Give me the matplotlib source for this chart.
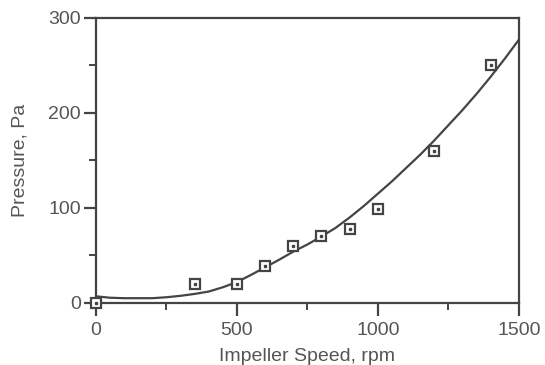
import matplotlib
matplotlib.use('Agg')
import matplotlib.pyplot as plt
from matplotlib.ticker import MultipleLocator

# measured points
speed = [0, 350, 500, 600, 700, 800, 900, 1000, 1200, 1400]
pressure = [0, 20, 20, 39, 60, 70, 78, 99, 160, 250]

# fitted curve
fit_speed = [0, 50, 100, 150, 200, 250, 300, 350, 400, 450, 500, 550, 600, 650, 700, 750,
             800, 850, 900, 950, 1000, 1050, 1100, 1150, 1200, 1250, 1300, 1350, 1400, 1450, 1500]
fit_pressure = [7, 5.5, 5, 5, 5, 6, 7.5, 9.5, 12, 16.5, 22, 29.5, 37.5, 45.5, 54, 61.5,
                70, 79, 90, 102, 115, 128, 142, 156, 171, 187, 203, 220, 238, 257, 277]

plt.rcParams['font.family'] = ['Liberation Sans', 'DejaVu Sans']
dark = '#444444'
txt = '#555555'

fig = plt.figure(figsize=(5.45, 3.65), dpi=100)
ax = fig.add_axes([0.176, 0.170, 0.776, 0.781])

ax.plot(fit_speed, fit_pressure, color=dark, linewidth=1.6, zorder=2)
ax.plot(speed, pressure, linestyle='none', marker='s', markersize=7,
        markerfacecolor='white', markeredgecolor=dark, markeredgewidth=1.6, zorder=3, clip_on=False)
ax.plot(speed, pressure, linestyle='none', marker='s', markersize=1.8,
        color=dark, zorder=4, clip_on=False)

ax.set_xlim(0, 1500)
ax.set_ylim(0, 300)
ax.xaxis.set_major_locator(MultipleLocator(500))
ax.xaxis.set_minor_locator(MultipleLocator(250))
ax.yaxis.set_major_locator(MultipleLocator(100))
ax.yaxis.set_minor_locator(MultipleLocator(50))

for s in ax.spines.values():
    s.set_color(dark)
    s.set_linewidth(1.6)

ax.tick_params(which='major', direction='out', length=9, width=1.6, color=dark,
               labelsize=14, labelcolor=txt, pad=2)
ax.tick_params(axis='x', which='major', pad=5)
ax.tick_params(which='minor', direction='out', length=5, width=1.4, color=dark)

ax.set_xlabel('Impeller Speed, rpm', fontsize=14, color=txt, labelpad=6)
ax.set_ylabel('Pressure, Pa', fontsize=14, color=txt, labelpad=14)

plt.savefig('out.png', dpi=100)
